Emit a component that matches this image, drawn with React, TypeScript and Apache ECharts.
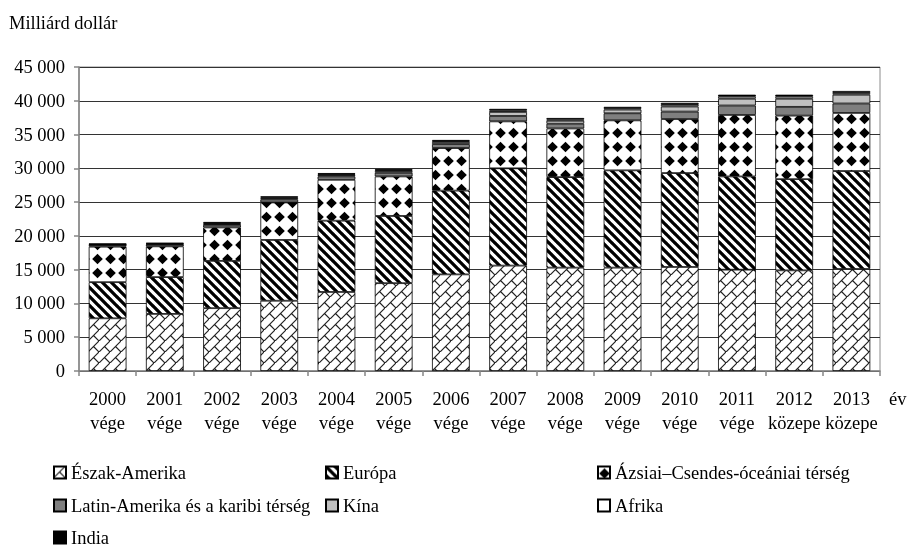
import React, { useEffect, useRef } from 'react';
import * as echarts from 'echarts';

const categories = [
  '2000\nvége', '2001\nvége', '2002\nvége', '2003\nvége', '2004\nvége', '2005\nvége', '2006\nvége',
  '2007\nvége', '2008\nvége', '2009\nvége', '2010\nvége', '2011\nvége', '2012\nközepe', '2013\nközepe',
];
const northAmerica = [7800, 8450, 9300, 10400, 11700, 13000, 14300, 15600, 15300, 15300, 15400, 15000, 14900, 15100];
const europe = [5350, 5450, 7000, 9000, 10550, 9950, 12400, 14400, 13400, 14400, 13900, 13800, 13500, 14500];
const asiaPacific = [5250, 4550, 4950, 5550, 6050, 5850, 6300, 6950, 7200, 7400, 8000, 9100, 9400, 8600];
const latinAmerica = [250, 280, 380, 450, 500, 550, 600, 800, 700, 1050, 1100, 1400, 1300, 1400];
const china = [50, 70, 150, 170, 200, 250, 300, 600, 450, 550, 750, 1000, 1200, 1300];
const africa = [80, 80, 130, 130, 150, 150, 150, 200, 200, 200, 250, 300, 300, 250];
const india = [70, 70, 150, 150, 150, 150, 150, 250, 200, 200, 300, 300, 300, 300];

const seriesNames = [
  'Észak-Amerika', 'Európa', 'Ázsiai–Csendes-óceániai térség',
  'Latin-Amerika és a karibi térség', 'Kína', 'Afrika', 'India',
];
const yTicks = { min: 0, max: 45000, interval: 5000 };

const FONT = '"Liberation Serif", "Times New Roman", serif';
const FS = 18.5;

function makeCanvas(w: number, h: number, draw: (ctx: CanvasRenderingContext2D) => void) {
  const c = document.createElement('canvas');
  c.width = w;
  c.height = h;
  const ctx = c.getContext('2d')!;
  ctx.fillStyle = '#fff';
  ctx.fillRect(0, 0, w, h);
  draw(ctx);
  return c;
}

function brickPattern() {
  const s = 11;
  return makeCanvas(s, s, (ctx) => {
    ctx.strokeStyle = '#222';
    ctx.lineWidth = 1.2;
    ctx.beginPath();
    ctx.moveTo(-1, s + 1);
    ctx.lineTo(s + 1, -1);
    ctx.moveTo(s / 2, s / 2);
    ctx.lineTo(s + 1, s + 1);
    ctx.stroke();
  });
}

function stripePattern() {
  const s = 9;
  return makeCanvas(s, s, (ctx) => {
    ctx.strokeStyle = '#000';
    ctx.lineWidth = 3.3;
    ctx.beginPath();
    for (const k of [-s, 0, s]) {
      ctx.moveTo(k - 1, -1);
      ctx.lineTo(k + s + 1, s + 1);
    }
    ctx.stroke();
  });
}

function diamondPattern() {
  const w = 13;
  const h = 14;
  return makeCanvas(w, h, (ctx) => {
    ctx.fillStyle = '#000';
    const cx = w / 2;
    const cy = h / 2;
    const r = 5.3;
    ctx.beginPath();
    ctx.moveTo(cx, cy - r);
    ctx.lineTo(cx + r, cy);
    ctx.lineTo(cx, cy + r);
    ctx.lineTo(cx - r, cy);
    ctx.closePath();
    ctx.fill();
  });
}

const fmt = (v: number) => String(v).replace(/\B(?=(\d{3})+(?!\d))/g, ' ');

// legend placement: [column x, row center y] per series
const legendSpots: [number, number][] = [
  [53, 472], [325, 472], [597, 472],
  [53, 505], [325, 505], [597, 505],
  [53, 537],
];

export default function App() {
  const ref = useRef<HTMLDivElement>(null);
  useEffect(() => {
    if (!ref.current) return;
    const chart = echarts.init(ref.current, undefined, { renderer: 'svg' });
    const fills: any[] = [
      { image: brickPattern(), repeat: 'repeat' },
      { image: stripePattern(), repeat: 'repeat' },
      { image: diamondPattern(), repeat: 'repeat' },
      '#7f7f7f',
      '#c0c0c0',
      '#ffffff',
      '#000000',
    ];
    const values = [northAmerica, europe, asiaPacific, latinAmerica, china, africa, india];
    chart.setOption({
      animation: false,
      textStyle: { fontFamily: FONT },
      grid: {
        left: 79, right: 40, top: 67, bottom: 176,
        show: true, borderColor: '#8c8c8c', borderWidth: 1,
        containLabel: false, outerBoundsMode: 'none',
      },
      legend: seriesNames.map((name, i) => ({
        data: [name],
        left: legendSpots[i][0],
        top: legendSpots[i][1] - 9,
        padding: 0,
        itemWidth: 12,
        itemHeight: 12,
        icon: 'rect',
        selectedMode: false,
        textStyle: { fontFamily: FONT, fontSize: FS, color: '#000', lineHeight: 18 },
      })),
      xAxis: {
        type: 'category',
        data: categories,
        axisLine: { show: true, lineStyle: { color: '#868686', width: 1.5 } },
        axisTick: { show: true, interval: 0, length: 5, lineStyle: { color: '#868686', width: 1.5 } },
        axisLabel: { interval: 0, fontFamily: FONT, fontSize: FS, color: '#000', lineHeight: 24, margin: 16 },
      },
      yAxis: {
        type: 'value',
        min: yTicks.min,
        max: yTicks.max,
        interval: yTicks.interval,
        axisLine: { show: true, lineStyle: { color: '#868686', width: 1.5 } },
        axisTick: { show: true, length: 5, lineStyle: { color: '#868686', width: 1.5 } },
        axisLabel: { fontFamily: FONT, fontSize: FS, color: '#000', margin: 14, formatter: fmt },
        splitLine: { show: true, lineStyle: { color: '#333', width: 1 } },
      },
      graphic: [
        { type: 'text', x: 9, y: 23, style: { text: 'Milliárd dollár', font: `${FS}px ${FONT}`, fill: '#000', verticalAlign: 'middle' } },
        { type: 'text', x: 889, y: 399, style: { text: 'év', font: `${FS}px ${FONT}`, fill: '#000', verticalAlign: 'middle' } },
      ],
      series: seriesNames.map((name, i) => ({
        name,
        type: 'bar',
        stack: 'total',
        barCategoryGap: '34%',
        data: values[i],
        itemStyle: { color: fills[i], borderColor: '#000', borderWidth: 0.8 },
        emphasis: { disabled: true },
      })),
    });
    return () => chart.dispose();
  }, []);
  return <div ref={ref} style={{ position: 'fixed', left: 0, top: 0, width: 920, height: 547 }} />;
}
